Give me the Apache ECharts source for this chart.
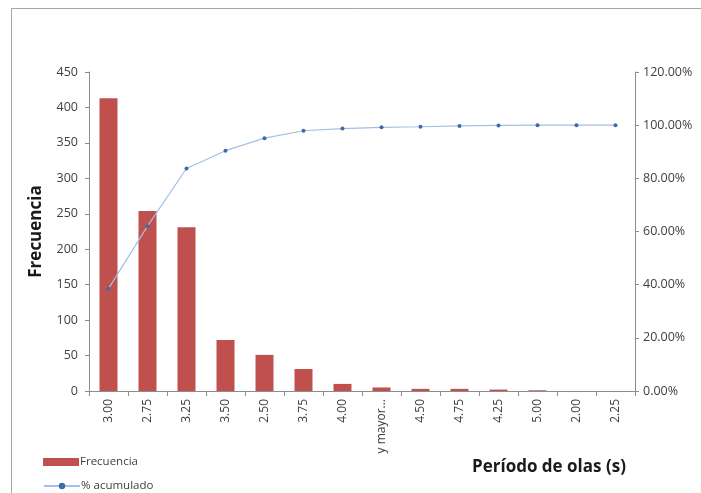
<!DOCTYPE html>
<html><head><meta charset="utf-8">
<script src="https://cdn.jsdelivr.net/npm/echarts@6/dist/echarts.min.js"></script>
<style>html,body{margin:0;padding:0;background:#fff}#c{width:701px;height:493px}</style>
</head><body><div id="c"></div>
<script>
const categories = ['3.00','2.75','3.25','3.50','2.50','3.75','4.00','y mayor...','4.50','4.75','4.25','5.00','2.00','2.25'];
const frecuencia = [413, 254, 231, 72, 51, 31, 10, 5, 3, 3, 2, 1, 0, 0];
const acumulado = [38.5, 62.0, 83.7, 90.4, 95.1, 97.9, 98.7, 99.2, 99.4, 99.7, 99.9, 100, 100, 100];
const leftTicks = {min: 0, max: 450, interval: 50};
const rightTicks = {min: 0, max: 120, interval: 20};

const chart = echarts.init(document.getElementById('c'));
const font = 'Open Sans, Liberation Sans, sans-serif';
const axisLine = {show: true, lineStyle: {color: '#8c8c8c', width: 1}};
const legendText = {fontFamily: font, fontSize: 11.5, color: '#404040', padding: [0, 0, 0, -4]};
chart.setOption({
  backgroundColor: '#fff',
  animation: false,
  textStyle: {fontFamily: font},
  graphic: [{type: 'rect', shape: {x: 11.5, y: 8.5, width: 720, height: 520}, style: {fill: 'none', stroke: '#a6a6a6', lineWidth: 1}, silent: true}],
  title: {text: 'Período de olas (s)', left: 467, top: 454, textStyle: {fontFamily: font, fontSize: 17, fontWeight: 'bold', color: '#1a1a1a'}},
  legend: [{
    left: 38, top: 451, itemWidth: 36, itemHeight: 8, textStyle: legendText,
    data: [{name: 'Frecuencia', icon: 'rect'}]
  }, {
    left: 38, top: 475, itemWidth: 36, itemHeight: 8, textStyle: legendText,
    data: [{name: '% acumulado'}]
  }],
  grid: {left: 89, right: 66, top: 72, bottom: 102},
  xAxis: {
    type: 'category', data: categories,
    axisLine: axisLine,
    axisTick: {show: true, length: 5, lineStyle: {color: '#8c8c8c'}},
    axisLabel: {rotate: 90, fontSize: 12, color: '#404040', margin: 8, interval: 0, fontFamily: font}
  },
  yAxis: [{
    type: 'value', min: leftTicks.min, max: leftTicks.max, interval: leftTicks.interval,
    name: 'Frecuencia', nameLocation: 'middle', nameGap: 44,
    nameTextStyle: {fontFamily: font, fontSize: 17, fontWeight: 'bold', color: '#1a1a1a'},
    axisLine: axisLine, axisTick: {show: true, length: 4, lineStyle: {color: '#8c8c8c'}},
    splitLine: {show: false},
    axisLabel: {fontSize: 12.5, color: '#404040', margin: 11, fontFamily: font}
  }, {
    type: 'value', min: rightTicks.min, max: rightTicks.max, interval: rightTicks.interval,
    position: 'right',
    axisLine: axisLine, axisTick: {show: true, length: 4, lineStyle: {color: '#8c8c8c'}},
    splitLine: {show: false},
    axisLabel: {fontSize: 12.5, color: '#404040', margin: 8, fontFamily: font, formatter: v => v.toFixed(2) + '%'}
  }],
  series: [{
    name: 'Frecuencia', type: 'bar', data: frecuencia, barWidth: 18,
    itemStyle: {color: '#C0504D'}
  }, {
    name: '% acumulado', type: 'line', yAxisIndex: 1, data: acumulado,
    symbol: 'circle', symbolSize: 4,
    lineStyle: {color: '#a3c0e3', width: 1.2},
    itemStyle: {color: '#3d6aa8'}
  }]
});
</script></body></html>
